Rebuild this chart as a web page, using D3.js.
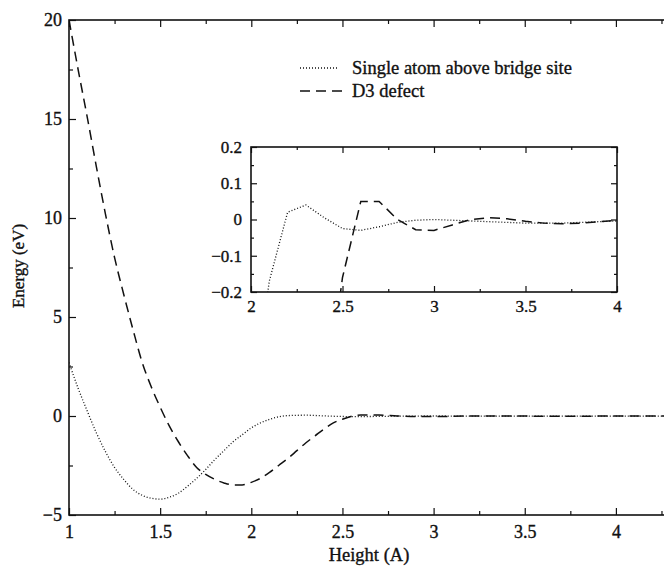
<!DOCTYPE html>
<html>
<head>
<meta charset="utf-8">
<script src="https://cdn.jsdelivr.net/npm/d3@7"></script>
<style>
  body { margin: 0; background: #fff; }
  svg text { font-family: "Liberation Serif", "Times New Roman", serif; fill: #111; stroke: #111; stroke-width: 0.35px; }
</style>
</head>
<body>
<svg id="chart" width="664" height="569"></svg>
<script>
// Binding energy versus height for an atom above the surface
const seriesNames = ["Single atom above bridge site", "D3 defect"];

const heightsSingle = [1.00, 1.05, 1.10, 1.15, 1.20, 1.25, 1.30, 1.35, 1.40, 1.45, 1.50, 1.55, 1.60,
  1.65, 1.70, 1.75, 1.80, 1.85, 1.90, 1.95, 2.00, 2.05, 2.10, 2.20, 2.30, 2.40, 2.50, 2.60, 2.70,
  2.80, 2.90, 3.00, 3.10, 3.20, 3.30, 3.40, 3.50, 3.60, 3.70, 3.80, 3.90, 4.00, 4.10, 4.20, 4.30];
const energySingle = [2.7, 1.4, 0.25, -0.85, -1.8, -2.6, -3.2, -3.7, -4.0, -4.15, -4.2, -4.1, -3.9,
  -3.55, -3.15, -2.7, -2.2, -1.75, -1.3, -0.95, -0.6, -0.35, -0.17, 0.02, 0.04, 0.005, -0.025, -0.03, -0.02,
  -0.008, -0.002, 0.0, -0.002, -0.004, -0.006, -0.008, -0.01, -0.01, -0.01, -0.008, -0.006, -0.004, -0.003, -0.002, -0.002];

const heightsD3 = [1.00, 1.05, 1.10, 1.15, 1.20, 1.25, 1.30, 1.35, 1.40, 1.45, 1.50, 1.55, 1.60,
  1.65, 1.70, 1.75, 1.80, 1.85, 1.90, 1.95, 2.00, 2.05, 2.10, 2.15, 2.20, 2.25, 2.30, 2.35, 2.40,
  2.45, 2.50, 2.60, 2.70, 2.80, 2.90, 3.00, 3.10, 3.20, 3.30, 3.40, 3.50, 3.60, 3.70, 3.80, 3.90,
  4.00, 4.10, 4.20, 4.30];
const energyD3 = [20.0, 17.5, 15.1, 12.6, 10.2, 8.0, 6.15, 4.4, 2.75, 1.5, 0.45, -0.5, -1.3,
  -2.0, -2.6, -2.95, -3.2, -3.38, -3.48, -3.48, -3.35, -3.15, -2.85, -2.5, -2.15, -1.75, -1.35, -1.0, -0.65,
  -0.35, -0.16, 0.05, 0.05, 0.0, -0.028, -0.03, -0.015, 0.0, 0.005, 0.002, -0.005, -0.01, -0.012, -0.01, -0.006,
  -0.002, 0.0, 0.0, 0.0];

const mainXTicks = [1, 1.5, 2, 2.5, 3, 3.5, 4];
const mainYTicks = [-5, 0, 5, 10, 15, 20];
const insetXTicks = [2, 2.5, 3, 3.5, 4];
const insetYTicks = [-0.2, -0.1, 0, 0.1, 0.2];

const fmt = v => (v < 0 ? "\u2212" : "") + Math.abs(v);

const single = heightsSingle.map((h, i) => ({ h, e: energySingle[i] }));
const defect = heightsD3.map((h, i) => ({ h, e: energyD3[i] }));
const series = [
  { name: seriesNames[0], data: single, dash: "1,2", width: 1.3 },
  { name: seriesNames[1], data: defect, dash: "10,6", width: 1.5 }
];

const svg = d3.select("#chart");
const ink = "#111";

// ---------- main panel ----------
const x = d3.scaleLinear().domain([1, 4.3]).range([69, 69 + 3.3 * 182.3]);
const y = d3.scaleLinear().domain([-5, 20]).range([515, 20]);

// box with inward ticks on every side; the right-hand ticks are optional
function frame(g, xs, ys, major, minor, xMajor, yMajor, xMinor, yMinor, labelFont, xPad, yPad, rightTicks) {
  const [x0, x1] = xs.range();
  const [y0, y1] = ys.range();
  g.append("rect").attr("x", x0).attr("y", y1).attr("width", x1 - x0).attr("height", y0 - y1)
    .attr("fill", "#fff").attr("stroke", ink).attr("stroke-width", 1.6);

  const clean = s => s.call(a => a.select(".domain").remove())
    .call(a => a.selectAll("line").attr("stroke", ink).attr("stroke-width", 1.2))
    .call(a => a.selectAll("text").attr("font-size", labelFont).attr("fill", ink));

  g.append("g").attr("transform", `translate(0,${y0})`)
    .call(d3.axisBottom(xs).tickValues(xMajor).tickSize(-major).tickPadding(xPad).tickFormat(fmt))
    .call(clean);
  g.append("g").attr("transform", `translate(0,${y0})`)
    .call(d3.axisBottom(xs).tickValues(xMinor).tickSize(-minor).tickFormat(""))
    .call(clean);
  g.append("g").attr("transform", `translate(0,${y1})`)
    .call(d3.axisTop(xs).tickValues(xMajor).tickSize(-major).tickFormat(""))
    .call(clean);
  g.append("g").attr("transform", `translate(0,${y1})`)
    .call(d3.axisTop(xs).tickValues(xMinor).tickSize(-minor).tickFormat(""))
    .call(clean);
  g.append("g").attr("transform", `translate(${x0},0)`)
    .call(d3.axisLeft(ys).tickValues(yMajor).tickSize(-major).tickPadding(yPad).tickFormat(fmt))
    .call(clean);
  g.append("g").attr("transform", `translate(${x0},0)`)
    .call(d3.axisLeft(ys).tickValues(yMinor).tickSize(-minor).tickFormat(""))
    .call(clean);
  if (rightTicks) {
    g.append("g").attr("transform", `translate(${x1},0)`)
      .call(d3.axisRight(ys).tickValues(yMajor).tickSize(-major).tickFormat(""))
      .call(clean);
    g.append("g").attr("transform", `translate(${x1},0)`)
      .call(d3.axisRight(ys).tickValues(yMinor).tickSize(-minor).tickFormat(""))
      .call(clean);
  }
}

const mainG = svg.append("g");
frame(mainG, x, y, 7, 4,
  mainXTicks, mainYTicks,
  d3.range(1.25, 4.3, 0.5), d3.range(-2.5, 20, 5),
  "18px", 10, 7, false);

svg.append("clipPath").attr("id", "clip-main").append("rect")
  .attr("x", x.range()[0]).attr("y", y.range()[1])
  .attr("width", x.range()[1] - x.range()[0]).attr("height", y.range()[0] - y.range()[1]);

const mainLine = d3.line().x(d => x(d.h)).y(d => y(d.e)).curve(d3.curveMonotoneX);
mainG.append("g").attr("clip-path", "url(#clip-main)")
  .selectAll("path").data(series).join("path")
  .attr("d", s => mainLine(s.data))
  .attr("fill", "none").attr("stroke", ink)
  .attr("stroke-width", s => s.width).attr("stroke-dasharray", s => s.dash);

// axis titles
svg.append("text").attr("x", 369).attr("y", 561).attr("text-anchor", "middle")
  .attr("font-size", "18.5px").text("Height (A)");
svg.append("text").attr("transform", "translate(24,266) rotate(-90)").attr("text-anchor", "middle")
  .attr("font-size", "17px").text("Energy (eV)");

// legend
const legend = svg.append("g");
series.forEach((s, i) => {
  const ly = 68 + i * 23;
  legend.append("line").attr("x1", 300).attr("x2", i === 0 ? 338 : 345)
    .attr("y1", ly).attr("y2", ly)
    .attr("stroke", ink).attr("stroke-width", s.width).attr("stroke-dasharray", s.dash);
  legend.append("text").attr("x", 352).attr("y", ly + 6).attr("font-size", "18.5px").text(s.name);
});

// ---------- inset panel ----------
const xi = d3.scaleLinear().domain([2, 4]).range([251, 617]);
const yi = d3.scaleLinear().domain([-0.2, 0.2]).range([292, 147]);

const insetG = svg.append("g");
frame(insetG, xi, yi, 6, 3,
  insetXTicks, insetYTicks,
  d3.range(2.25, 4, 0.5), d3.range(-0.15, 0.2, 0.1),
  "17px", 8, 9, true);

svg.append("clipPath").attr("id", "clip-inset").append("rect")
  .attr("x", 251).attr("y", 147).attr("width", 366).attr("height", 145);

const insetLine = d3.line().x(d => xi(d.h)).y(d => yi(d.e));
insetG.append("g").attr("clip-path", "url(#clip-inset)")
  .selectAll("path").data(series).join("path")
  .attr("d", s => insetLine(s.data))
  .attr("fill", "none").attr("stroke", ink)
  .attr("stroke-width", s => s.width).attr("stroke-dasharray", s => s.dash);
</script>
</body>
</html>
